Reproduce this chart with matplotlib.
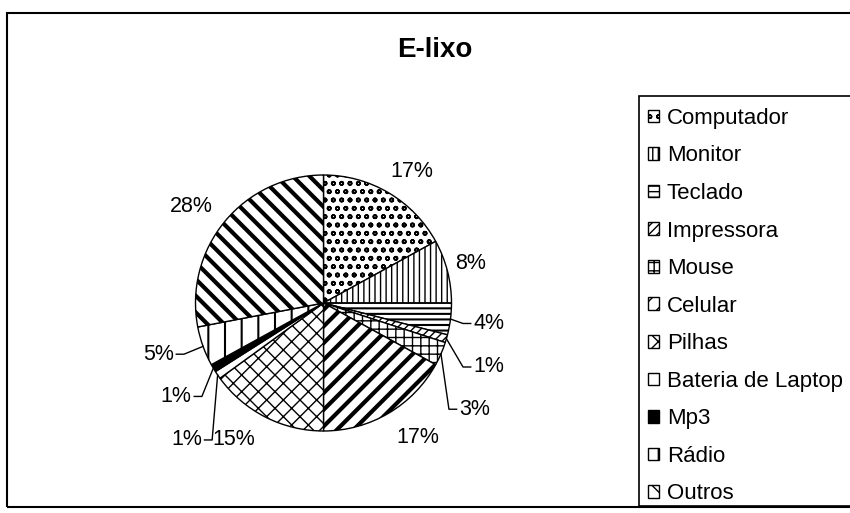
import matplotlib
matplotlib.use('Agg')
import numpy as np
from matplotlib import pyplot as plt
from matplotlib.patches import Rectangle

plt.rcParams['font.family'] = ['Liberation Sans', 'DejaVu Sans']

# data
categorias = ['Computador', 'Monitor', 'Teclado', 'Impressora', 'Mouse', 'Celular',
              'Pilhas', 'Bateria de Laptop', 'Mp3', 'Rádio', 'Outros']
valores = [17, 8, 4, 1, 3, 17, 15, 1, 1, 5, 28]
rotulos = ['17%', '8%', '4%', '1%', '3%', '17%', '15%', '1%', '1%', '5%', '28%']

# style
hachuras = ['oo', '|||', '---', '////', '++', '//', 'xx', '', '', '|', '\\\\']
cores = ['white'] * 8 + ['black', 'white', 'white']
hatch_lw = [1.2, 1.0, 1.5, 1.0, 1.0, 3.0, 1.0, 1.0, 1.0, 1.5, 3.0]
# label positions in pie-radius units, and whether a leader line is drawn
pos_rotulo = [(0.69, 1.03), (1.15, 0.31), (1.29, -0.16), (1.29, -0.50), (1.18, -0.83),
              (0.74, -1.05), (-0.70, -1.07), (-1.07, -1.07), (-1.15, -0.73),
              (-1.29, -0.40), (-1.03, 0.75)]
linha = [False, False, True, True, True, False, False, True, True, True, False]

W, H = 850, 513
cx, cy, R = 323.5, 303, 128

fig = plt.figure(figsize=(W / 100, H / 100), dpi=100)
ax = fig.add_axes([0, 0, 1, 1])

wedges, _ = ax.pie(valores, startangle=90, counterclock=False, radius=1,
                   colors=cores, wedgeprops=dict(edgecolor='black', linewidth=1))
for w, h, lw in zip(wedges, hachuras, hatch_lw):
    w.set_hatch(h)
    try:
        w.set_hatch_linewidth(lw)
    except AttributeError:
        pass

ax.set_xlim(-cx / R, (W - cx) / R)
ax.set_ylim(-(H - cy) / R, cy / R)
ax.set_aspect('equal', adjustable='datalim')
ax.axis('off')

for w, txt, (tx, ty), ln in zip(wedges, rotulos, pos_rotulo, linha):
    ax.text(tx, ty, txt, ha='center', va='center', fontsize=15.5)
    if ln:
        ang = np.deg2rad((w.theta1 + w.theta2) / 2)
        ex, ey = np.cos(ang), np.sin(ang)
        side = 1 if tx > 0 else -1
        sx = tx - side * 0.2
        ax.plot([ex, sx, sx + side * 0.06], [ey, ty, ty], color='black', lw=1)

fig.text(435 / W, 1 - 50 / H, 'E-lixo', ha='center', va='center',
         fontsize=20, fontweight='bold')

leg = fig.legend(wedges, categorias, loc='upper left',
                 bbox_to_anchor=(639 / W, 1 - 99 / H), borderaxespad=0,
                 fontsize=16, frameon=False,
                 handlelength=0.5, handleheight=0.5, handletextpad=0.35,
                 labelspacing=0.745, borderpad=0.4)

# legend frame (runs off the right edge, like the original)
fig.patches.append(Rectangle((639 / W, (H - 506) / H), 1, (506 - 96) / H,
                             transform=fig.transFigure, fill=False,
                             edgecolor='black', linewidth=1.2))

# outer chart border
fig.patches.append(Rectangle((7 / W, (H - 507) / H), 1, (507 - 13) / H,
                             transform=fig.transFigure, fill=False,
                             edgecolor='black', linewidth=1.5))

plt.savefig('out.png', dpi=100)
